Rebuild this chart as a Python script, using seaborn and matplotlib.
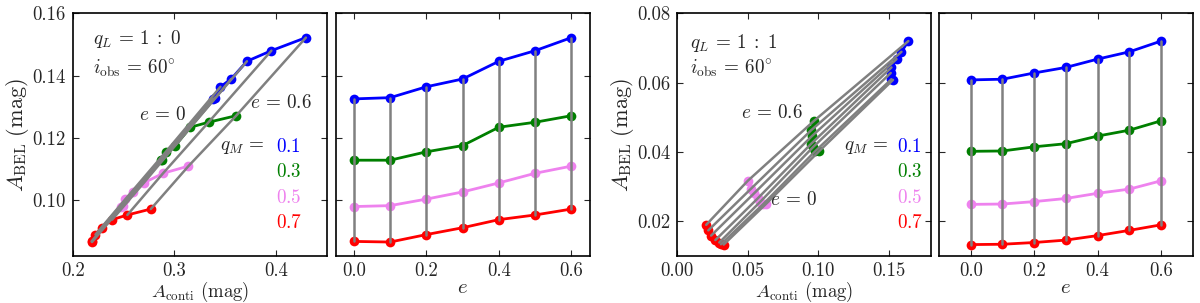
import numpy as np
import pandas as pd
import seaborn as sns
import matplotlib.pyplot as plt

# eccentricity grid and mass ratios
e_vals = [0.0, 0.1, 0.2, 0.3, 0.4, 0.5, 0.6]
q_M = [0.1, 0.3, 0.5, 0.7]
colors = ["#0000ff", "#007f00", "#ee82ee", "#ff0000"]

# q_L = 1:0
bel1_q01 = [0.1325, 0.1329, 0.1364, 0.1389, 0.1446, 0.1480, 0.1522]
bel1_q03 = [0.1128, 0.1128, 0.1155, 0.1175, 0.1234, 0.1250, 0.1271]
bel1_q05 = [0.0979, 0.0982, 0.1003, 0.1026, 0.1055, 0.1086, 0.1109]
bel1_q07 = [0.0867, 0.0865, 0.0889, 0.0911, 0.0937, 0.0952, 0.0971]
conti1_q01 = [0.3380, 0.3400, 0.3455, 0.3561, 0.3716, 0.3957, 0.4297]
conti1_q03 = [0.2866, 0.2877, 0.2917, 0.3010, 0.3160, 0.3338, 0.3610]
conti1_q05 = [0.2477, 0.2495, 0.2519, 0.2591, 0.2700, 0.2890, 0.3140]
conti1_q07 = [0.2185, 0.2190, 0.2224, 0.2284, 0.2389, 0.2538, 0.2769]

# q_L = 1:1
bel2_q01 = [0.0608, 0.0610, 0.0628, 0.0644, 0.0668, 0.0689, 0.0720]
bel2_q03 = [0.0402, 0.0403, 0.0415, 0.0424, 0.0446, 0.0463, 0.0490]
bel2_q05 = [0.0249, 0.0250, 0.0257, 0.0266, 0.0281, 0.0293, 0.0317]
bel2_q07 = [0.0133, 0.0134, 0.0139, 0.0146, 0.0159, 0.0174, 0.0190]
conti2_q01 = [0.1530, 0.1519, 0.1514, 0.1519, 0.1555, 0.1590, 0.1639]
conti2_q03 = [0.1005, 0.0980, 0.0965, 0.0950, 0.0955, 0.0950, 0.0970]
conti2_q05 = [0.0626, 0.0610, 0.0590, 0.0570, 0.0545, 0.0520, 0.0500]
conti2_q07 = [0.0329, 0.0310, 0.0298, 0.0270, 0.0240, 0.0220, 0.0205]


def make_df(conti, bel):
    rows = []
    for q, c_list, b_list in zip(q_M, conti, bel):
        for e, c, b in zip(e_vals, c_list, b_list):
            rows.append({"qM": q, "e": e, "conti": c, "bel": b})
    return pd.DataFrame(rows)


df1 = make_df([conti1_q01, conti1_q03, conti1_q05, conti1_q07],
              [bel1_q01, bel1_q03, bel1_q05, bel1_q07])
df2 = make_df([conti2_q01, conti2_q03, conti2_q05, conti2_q07],
              [bel2_q01, bel2_q03, bel2_q05, bel2_q07])

sns.set_style("ticks")
plt.rcParams["font.family"] = ["cmr10", "DejaVu Serif"]
plt.rcParams["mathtext.fontset"] = "cm"
plt.rcParams["axes.unicode_minus"] = False
plt.rcParams["axes.formatter.use_mathtext"] = True

fig = plt.figure(figsize=(12, 3.03), dpi=100)
w, h, b = 0.2115, 0.801, 0.155
axes = [fig.add_axes([l, b, w, h]) for l in (0.0606, 0.2798, 0.5644, 0.7825)]
pal = dict(zip(q_M, colors))
line_kw = dict(marker="o", markersize=7, markeredgewidth=0, lw=2,
               estimator=None, sort=False, legend=False)
gray_kw = dict(color="#808080", lw=1.8, estimator=None, sort=False,
               legend=False, zorder=3)


def draw_pair(ax_l, ax_r, df):
    # conti vs BEL
    sns.lineplot(data=df, x="conti", y="bel", hue="qM", palette=pal,
                 units="qM", ax=ax_l, **line_kw)
    sns.lineplot(data=df.sort_values(["e", "qM"], ascending=[True, False]),
                 x="conti", y="bel", units="e", ax=ax_l, **gray_kw)
    # e vs BEL
    sns.lineplot(data=df, x="e", y="bel", hue="qM", palette=pal,
                 units="qM", ax=ax_r, **line_kw)
    sns.lineplot(data=df.sort_values(["e", "qM"], ascending=[True, False]),
                 x="e", y="bel", units="e", ax=ax_r, **gray_kw)


draw_pair(axes[0], axes[1], df1)
draw_pair(axes[2], axes[3], df2)

fs = 13.5      # tick labels
fs_txt = 13.8  # annotations
for ax in axes:
    ax.tick_params(direction="in", top=True, right=True, labelsize=fs,
                   length=4, width=0.8)
    ax.tick_params(axis="x", pad=4)
    ax.tick_params(axis="y", pad=5)
    for s in ax.spines.values():
        s.set_linewidth(1.2)
        s.set_color("black")
    ax.set_xlabel("")
    ax.set_ylabel("")

axes[0].set_xlim(0.2, 0.45)
axes[0].set_xticks([0.2, 0.3, 0.4])
axes[0].set_xticklabels(["0.2", "0.3", "0.4"])
for ax in axes[:2]:
    ax.set_ylim(0.082, 0.16)
    ax.set_yticks([0.10, 0.12, 0.14, 0.16])
axes[0].set_yticklabels(["0.10", "0.12", "0.14", "0.16"])
axes[1].set_yticklabels([])
axes[1].set_xlim(-0.05, 0.65)

axes[2].set_xlim(0.0, 0.18)
axes[2].set_xticks([0.0, 0.05, 0.10, 0.15])
axes[2].set_xticklabels(["0.00", "0.05", "0.10", "0.15"])
for ax in axes[2:]:
    ax.set_ylim(0.01, 0.08)
    ax.set_yticks([0.02, 0.04, 0.06, 0.08])
axes[2].set_yticklabels(["0.02", "0.04", "0.06", "0.08"])
axes[3].set_yticklabels([])
axes[3].set_xlim(-0.1, 0.7)

for ax in (axes[1], axes[3]):
    ax.set_xticks([0.0, 0.2, 0.4, 0.6])
    ax.set_xticklabels(["0.0", "0.2", "0.4", "0.6"])
    ax.set_xlabel(r"$e$", fontsize=15, labelpad=0)
for ax in (axes[0], axes[2]):
    ax.set_xlabel(r"$A_{\rm conti}\ \rm (mag)$", fontsize=13.5, labelpad=0)
    ax.set_ylabel(r"$A_{\rm BEL}\ \rm (mag)$", fontsize=16, labelpad=1)

# annotations
def annotate(ax, ql, pos):
    t = ax.transAxes
    kw = dict(transform=t, fontsize=fs_txt, va="center")
    ax.text(pos["ql"][0], pos["ql"][1], r"$q_L\,=\,%s$" % ql, ha="left", **kw)
    ax.text(pos["io"][0], pos["io"][1], r"$i_{\rm obs}\,=\,60^{\circ}$",
            ha="left", **kw)
    ax.text(pos["e0"][0], pos["e0"][1], r"$e\,=\,0$", ha="center", **kw)
    ax.text(pos["e6"][0], pos["e6"][1], r"$e\,=\,0.6$", ha="center", **kw)
    ax.text(pos["qm"][0], pos["qm"][1], r"$q_M\,=$", ha="right", **kw)
    for i, (q, c) in enumerate(zip(q_M, colors)):
        ax.text(pos["qm"][0] + pos["dx"], pos["qm"][1] - i * 0.104,
                r"$%.1f$" % q, ha="left", color=c, **kw)


annotate(axes[0], r"1\;:\;0", {"ql": (0.08, 0.895), "io": (0.08, 0.773),
                               "e0": (0.355, 0.581), "e6": (0.82, 0.630),
                               "qm": (0.755, 0.449), "dx": 0.045})
annotate(axes[2], r"1\;:\;1", {"ql": (0.05, 0.876), "io": (0.05, 0.773),
                               "e0": (0.456, 0.23), "e6": (0.374, 0.589),
                               "qm": (0.833, 0.449), "dx": 0.032})

fig.savefig("out.png", dpi=100)
